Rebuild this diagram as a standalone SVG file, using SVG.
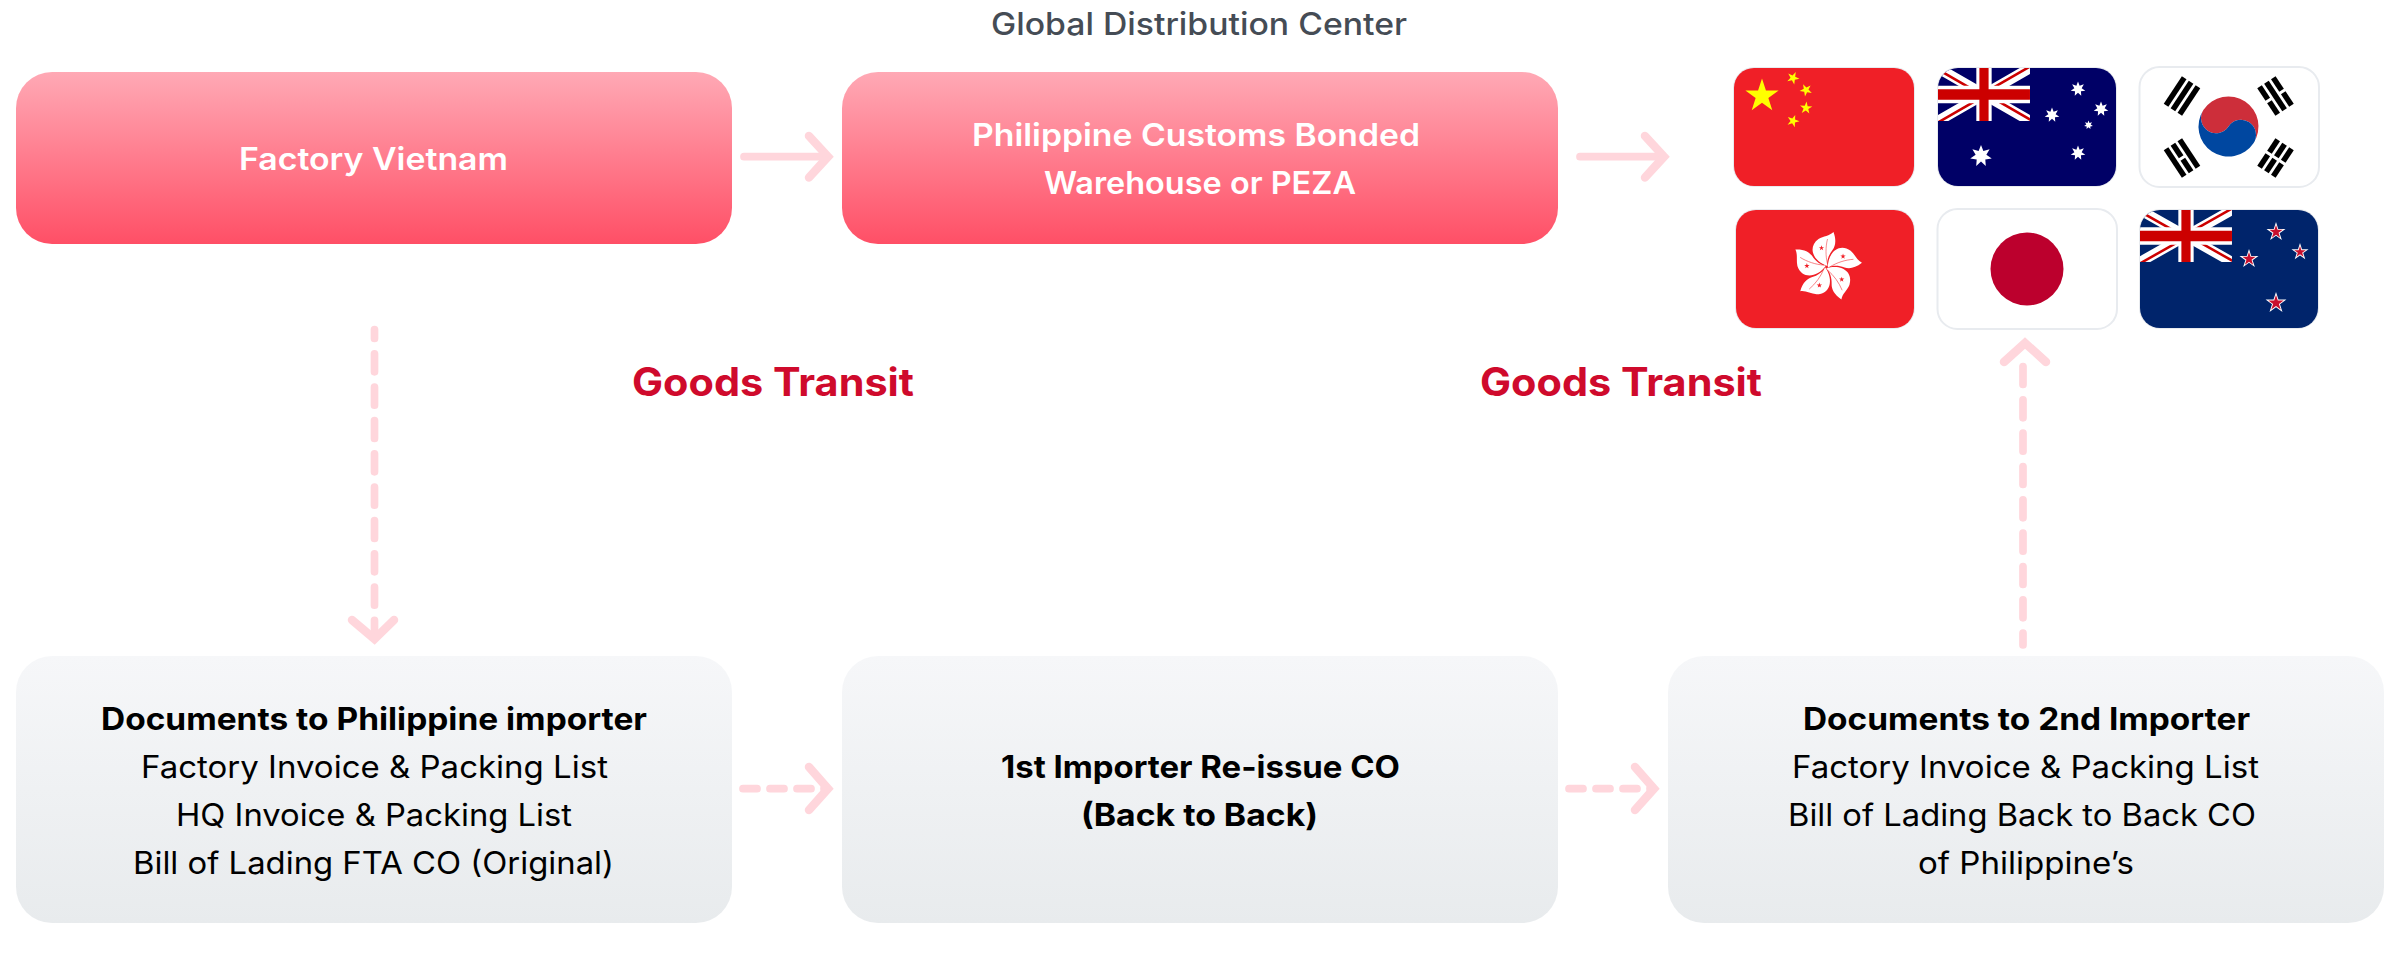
<svg xmlns="http://www.w3.org/2000/svg" width="2400" height="974" viewBox="0 0 2400 974">
<style>
text{font-family:Inter,"Open Sans","Liberation Sans",sans-serif;}
.box{stroke:none}
.w{font-size:31px;font-weight:600;fill:#fff}
.b{font-size:31px;font-weight:700;fill:#000}
.r{font-size:31px;font-weight:400;fill:#000}
.g{font-size:39px;font-weight:700;fill:#cf0a2c}
.t{font-size:31px;font-weight:500;fill:#454c55}
.ln{fill:none;stroke:#ffd6dc;stroke-width:7.7;stroke-linecap:round;stroke-linejoin:miter;stroke-miterlimit:6}
.hd{stroke-width:8.500}
.dash{stroke-dasharray:18 15.33}
.hdash{stroke-dasharray:14 13}
.fb{fill:none;stroke:#e8ebef;stroke-width:2}
.fw{fill:#fff;stroke:#e8ebef;stroke-width:2}
</style>
<defs>
<linearGradient id="gr" x1="0" y1="0" x2="0" y2="1"><stop offset="0" stop-color="#ffa9b5"/><stop offset="1" stop-color="#ff4f66"/></linearGradient>
<linearGradient id="gy" x1="0" y1="0" x2="0" y2="1"><stop offset="0" stop-color="#f6f7f9"/><stop offset="1" stop-color="#e8ebed"/></linearGradient>
<clipPath id="c2"><rect x="1938" y="68" width="178" height="118" rx="20"/></clipPath>
<clipPath id="c4"><rect x="2140" y="210" width="178" height="118" rx="20"/></clipPath>
<clipPath id="uc"><path d="M30,15h30v15zv15h-30zh-30v-15zv-15h30z"/></clipPath>
<clipPath id="uo"><rect width="60" height="30"/></clipPath>
<g id="union" clip-path="url(#uo)">
<path d="M0,0L60,30M60,0L0,30" stroke="#fff" stroke-width="6" fill="none"/>
<path d="M0,0L60,30M60,0L0,30" stroke="#cc0000" stroke-width="3" fill="none" clip-path="url(#uc)"/>
<path d="M30,0V30M0,15H60" stroke="#fff" stroke-width="10" fill="none"/>
<path d="M30,0V30M0,15H60" stroke="#cc0000" stroke-width="6" fill="none"/>
</g>
<polygon id="s5" points="0,-1 .225,-.309 .951,-.309 .363,.118 .588,.809 0,.382 -.588,.809 -.363,.118 -.951,-.309 -.225,-.309"/>
<polygon id="s7" points="0,-1 .217,-.45 .782,-.623 .487,-.111 .975,.223 .391,.312 .434,.901 0,.5 -.434,.901 -.391,.312 -.975,.223 -.487,-.111 -.782,-.623 -.217,-.45"/>
<g id="petal">
<path d="M1,-1C-14,-6 -19,-20 -8,-28C-3,-31 3,-31 7,-35C10,-27 9,-21 6,-17C2,-12 0,-6 1,-1Z" fill="#fff"/>
<path d="M1,-3C-1,-11 -1,-20 1,-28" fill="none" stroke="#f01f27" stroke-width=".5"/>
<use href="#s5" transform="translate(-5,-19) scale(2.8)" fill="#f01f27"/>
</g>
</defs>
<rect width="2400" height="974" fill="#fff"/>

<g id="title"><text class="t" x="991" y="35" textLength="416" lengthAdjust="spacingAndGlyphs">Global Distribution Center</text></g>

<g id="connectors">
<path class="ln" d="M744,156.700H826"/>
<path class="ln hd" d="M809,136L828,156.700L809,177.500"/>
<path class="ln" d="M1580,156.700H1662"/>
<path class="ln hd" d="M1645,136L1664,156.700L1645,177.500"/>
<path class="ln dash" stroke-dashoffset="9" d="M374.500,329.500V636"/>
<path class="ln hd" d="M352,620L374.500,639L394,620"/>
<path class="ln hdash" d="M743,788.700H826"/>
<path class="ln hd" d="M809,767L828,788.700L809,810"/>
<path class="ln hdash" d="M1569,788.700H1651"/>
<path class="ln hd" d="M1635,767L1654,788.700L1635,810"/>
<path class="ln dash" d="M2023,366.500V645"/>
<path class="ln hd" d="M2004,362L2025,343L2046,362"/>
</g>

<g id="node-factory"><rect class="box" x="16" y="72" width="716" height="172" rx="36" fill="url(#gr)"/>
<text class="w" x="239" y="170" textLength="269" lengthAdjust="spacingAndGlyphs">Factory Vietnam</text></g>
<g id="node-bonded"><rect class="box" x="842" y="72" width="716" height="172" rx="36" fill="url(#gr)"/>
<text class="w" x="972" y="146" textLength="448" lengthAdjust="spacingAndGlyphs">Philippine Customs Bonded</text>
<text class="w" x="1044" y="194" textLength="312" lengthAdjust="spacingAndGlyphs">Warehouse or PEZA</text></g>

<g id="label-transit-1"><text class="g" x="632" y="396" textLength="282" lengthAdjust="spacingAndGlyphs">Goods Transit</text></g>
<g id="label-transit-2"><text class="g" x="1480" y="396" textLength="282" lengthAdjust="spacingAndGlyphs">Goods Transit</text></g>

<g id="node-docs-ph"><rect class="box" x="16" y="656" width="716" height="267" rx="36" fill="url(#gy)"/>
<text class="b" x="101" y="730" textLength="546" lengthAdjust="spacingAndGlyphs">Documents to Philippine importer</text>
<text class="r" x="141" y="778" textLength="467" lengthAdjust="spacingAndGlyphs">Factory Invoice &amp; Packing List</text>
<text class="r" x="176" y="826" textLength="396" lengthAdjust="spacingAndGlyphs">HQ Invoice &amp; Packing List</text>
<text class="r" x="133" y="874" textLength="481" lengthAdjust="spacingAndGlyphs">Bill of Lading FTA CO (Original)</text></g>

<g id="node-reissue"><rect class="box" x="842" y="656" width="716" height="267" rx="36" fill="url(#gy)"/>
<text class="b" x="1001" y="778" textLength="399" lengthAdjust="spacingAndGlyphs">1st Importer Re-issue CO</text>
<text class="b" x="1081" y="826" textLength="237" lengthAdjust="spacingAndGlyphs">(Back to Back)</text></g>

<g id="node-docs-2nd"><rect class="box" x="1668" y="656" width="716" height="267" rx="36" fill="url(#gy)"/>
<text class="b" x="1803" y="730" textLength="447" lengthAdjust="spacingAndGlyphs">Documents to 2nd Importer</text>
<text class="r" x="1792" y="778" textLength="467" lengthAdjust="spacingAndGlyphs">Factory Invoice &amp; Packing List</text>
<text class="r" x="1788" y="826" textLength="468" lengthAdjust="spacingAndGlyphs">Bill of Lading Back to Back CO</text>
<text class="r" x="1918" y="874" textLength="216" lengthAdjust="spacingAndGlyphs">of Philippine’s</text></g>

<g id="flag-china"><rect class="fb" x="1734" y="68" width="180" height="118" rx="20"/>
<rect x="1734" y="68" width="180" height="118" rx="20" fill="#f01f27"/>
<g fill="#ffff00"><use href="#s5" transform="translate(1762,96) scale(17.500)"/>
<use href="#s5" transform="translate(1793,78) rotate(25) scale(6.500)"/>
<use href="#s5" transform="translate(1806,90) rotate(45) scale(6.500)"/>
<use href="#s5" transform="translate(1806,108) rotate(5) scale(6.500)"/>
<use href="#s5" transform="translate(1793,121) rotate(20) scale(6.500)"/></g></g>

<g id="flag-australia"><rect class="fb" x="1938" y="68" width="178" height="118" rx="20"/>
<g clip-path="url(#c2)"><rect x="1938" y="68" width="178" height="118" fill="#000066"/>
<use href="#union" transform="translate(1938,68) scale(1.533,1.767)"/></g>
<g fill="#fff"><use href="#s7" transform="translate(2078,89) scale(7.500)"/>
<use href="#s7" transform="translate(2101,109) scale(7.500)"/>
<use href="#s7" transform="translate(2052,115) scale(7.500)"/>
<use href="#s7" transform="translate(2088.500,125) scale(4.500)"/>
<use href="#s7" transform="translate(2078,153) scale(7.500)"/>
<use href="#s7" transform="translate(1981,156) scale(11)"/></g></g>

<g id="flag-korea"><rect class="fw" x="2139.500" y="67" width="179.500" height="120" rx="20"/>
<g transform="translate(2228.500,126.500) rotate(33.700)">
<path d="M-30,0A30,30 0 0 1 30,0A15,15 0 0 0 0,0A15,15 0 0 1 -30,0Z" fill="#cd2e3a"/>
<path d="M-30,0A30,30 0 0 0 30,0A15,15 0 0 0 0,0A15,15 0 0 1 -30,0Z" fill="#0047a0"/></g>
<g fill="#000">
<g transform="translate(2182,96) rotate(-56.600)"><rect x="-16.500" y="-11" width="33" height="5.500"/><rect x="-16.500" y="-2.750" width="33" height="5.500"/><rect x="-16.500" y="5.500" width="33" height="5.500"/></g>
<g transform="translate(2275.500,96) rotate(56.600)"><rect x="-16.500" y="-11" width="15" height="5.500"/><rect x="1.500" y="-11" width="15" height="5.500"/><rect x="-16.500" y="-2.750" width="33" height="5.500"/><rect x="-16.500" y="5.500" width="15" height="5.500"/><rect x="1.500" y="5.500" width="15" height="5.500"/></g>
<g transform="translate(2182,158) rotate(56.600)"><rect x="-16.500" y="-11" width="33" height="5.500"/><rect x="-16.500" y="-2.750" width="15" height="5.500"/><rect x="1.500" y="-2.750" width="15" height="5.500"/><rect x="-16.500" y="5.500" width="33" height="5.500"/></g>
<g transform="translate(2275.500,158) rotate(-56.600)"><rect x="-16.500" y="-11" width="15" height="5.500"/><rect x="1.500" y="-11" width="15" height="5.500"/><rect x="-16.500" y="-2.750" width="15" height="5.500"/><rect x="1.500" y="-2.750" width="15" height="5.500"/><rect x="-16.500" y="5.500" width="15" height="5.500"/><rect x="1.500" y="5.500" width="15" height="5.500"/></g>
</g></g>

<g id="flag-hongkong"><rect class="fb" x="1736" y="210" width="178" height="118" rx="20"/>
<rect x="1736" y="210" width="178" height="118" rx="20" fill="#f01f27"/>
<g transform="translate(1826.500,267)"><use href="#petal"/><use href="#petal" transform="rotate(72)"/><use href="#petal" transform="rotate(144)"/><use href="#petal" transform="rotate(216)"/><use href="#petal" transform="rotate(288)"/></g></g>

<g id="flag-japan"><rect class="fw" x="1937.500" y="209" width="179.500" height="120" rx="20"/>
<circle cx="2027" cy="269" r="36.500" fill="#bc002d"/></g>

<g id="flag-newzealand"><rect class="fb" x="2140" y="210" width="178" height="118" rx="20"/>
<g clip-path="url(#c4)"><rect x="2140" y="210" width="178" height="118" fill="#00246b"/>
<use href="#union" transform="translate(2140,210) scale(1.533,1.733)"/></g>
<g fill="#fff"><use href="#s5" transform="translate(2276,232) scale(10)"/><use href="#s5" transform="translate(2300,252) scale(9)"/><use href="#s5" transform="translate(2249,259) scale(10)"/><use href="#s5" transform="translate(2276,303) scale(11)"/></g>
<g fill="#c8102e"><use href="#s5" transform="translate(2276,232) scale(7)"/><use href="#s5" transform="translate(2300,252) scale(6)"/><use href="#s5" transform="translate(2249,259) scale(7)"/><use href="#s5" transform="translate(2276,303) scale(8)"/></g></g>
</svg>
